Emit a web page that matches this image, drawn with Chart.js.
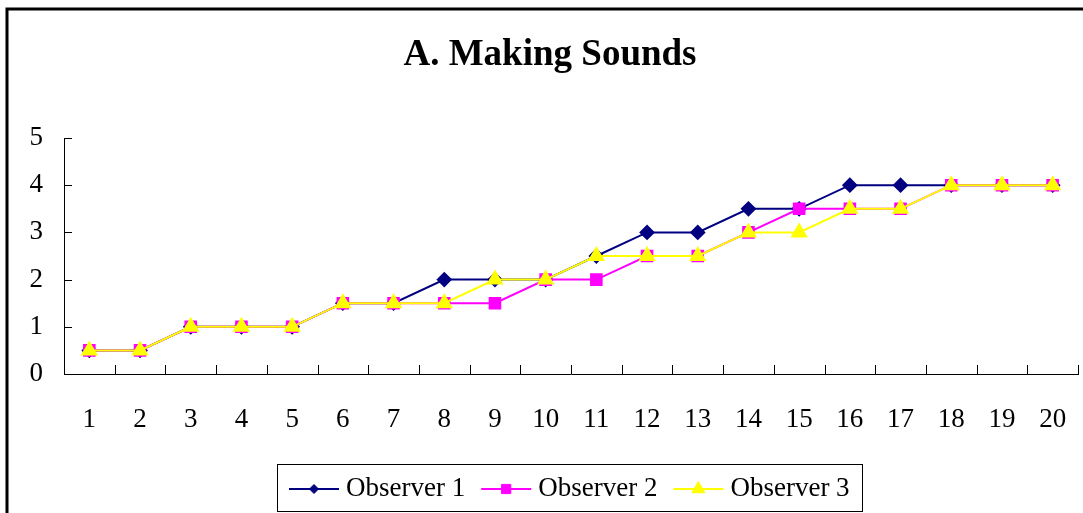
<!DOCTYPE html>
<html>
<head>
<meta charset="utf-8">
<script src="https://cdn.jsdelivr.net/npm/chart.js@4/dist/chart.umd.min.js"></script>
<style>
  html, body { margin: 0; padding: 0; background: #fff; }
  #wrap { width: 1083px; height: 513px; }
</style>
</head>
<body>
<div id="wrap"><canvas id="c" width="1083" height="513"></canvas></div>
<script>
// Sessions 1..20 and the rating each observer gave
const sessions = ['1','2','3','4','5','6','7','8','9','10','11','12','13','14','15','16','17','18','19','20'];
const observer1 = [0.5,0.5,1,1,1,1.5,1.5,2,2,2,2.5,3,3,3.5,3.5,4,4,4,4,4];
const observer2 = [0.5,0.5,1,1,1,1.5,1.5,1.5,1.5,2,2,2.5,2.5,3,3.5,3.5,3.5,4,4,4];
const observer3 = [0.5,0.5,1,1,1,1.5,1.5,1.5,2,2,2.5,2.5,2.5,3,3,3.5,3.5,4,4,4];
const yTicks = [0,1,2,3,4,5];
const chartTitle = 'A. Making Sounds';

const SERIF = '"Liberation Serif", "Times New Roman", serif';

// outer frame (left and top edges)
const framePlugin = {
  id: 'frame',
  beforeDraw(chart) {
    const ctx = chart.ctx;
    ctx.save();
    ctx.fillStyle = '#fff';
    ctx.fillRect(0, 0, chart.width, chart.height);
    ctx.strokeStyle = '#000';
    ctx.lineWidth = 3;
    ctx.beginPath();
    ctx.moveTo(7, chart.height);
    ctx.lineTo(7, 9);
    ctx.lineTo(chart.width, 9);
    ctx.stroke();
    ctx.restore();
  }
};

// tick marks pointing into the plot area
const innerTicks = {
  id: 'innerTicks',
  beforeDatasetsDraw(chart) {
    const ctx = chart.ctx;
    const xs = chart.scales.x, ys = chart.scales.y;
    ctx.save();
    ctx.strokeStyle = '#000';
    ctx.lineWidth = 1;
    ctx.beginPath();
    for (let k = 1; k <= chart.data.labels.length; k++) {
      const px = Math.round(xs.getPixelForValue(k - 0.5)) + 0.5;
      ctx.moveTo(px, ys.bottom);
      ctx.lineTo(px, ys.bottom - 9);
    }
    ys.ticks.forEach(t => {
      const py = Math.round(ys.getPixelForValue(t.value)) + 0.5;
      ctx.moveTo(xs.left, py);
      ctx.lineTo(xs.left + 8, py);
    });
    ctx.stroke();
    ctx.restore();
  }
};

// boxed legend with line + marker samples
const legendRadius = [4.5, 6.5, 7.5];
const boxedLegend = {
  id: 'boxedLegend',
  afterDraw(chart) {
    const ctx = chart.ctx;
    const ds = chart.data.datasets;
    ctx.save();
    ctx.font = '27px ' + SERIF;
    const sample = 50, gap = 7, between = 16, pad = 12;
    const widths = ds.map(d => ctx.measureText(d.label).width);
    const total = pad * 2 + widths.reduce((a, w) => a + sample + gap + w, 0) + between * (ds.length - 1);
    const ca = chart.chartArea;
    const left = Math.round((ca.left + ca.right) / 2 - total / 2) - 2;
    const top = chart.height - 49, h = 47, cy = top + 25;
    ctx.strokeStyle = '#000';
    ctx.lineWidth = 1;
    ctx.strokeRect(left + 0.5, top + 0.5, Math.round(total), h);
    let x = left + pad;
    ds.forEach((d, i) => {
      ctx.strokeStyle = d.borderColor;
      ctx.lineWidth = 2;
      ctx.beginPath();
      ctx.moveTo(x, cy);
      ctx.lineTo(x + sample, cy);
      ctx.stroke();
      ctx.fillStyle = d.pointBackgroundColor;
      ctx.strokeStyle = d.pointBorderColor;
      ctx.lineWidth = 1;
      Chart.helpers.drawPoint(ctx, { pointStyle: d.pointStyle, radius: legendRadius[i], borderWidth: 1, rotation: 0 }, x + sample / 2, cy);
      ctx.fillStyle = '#000';
      ctx.textAlign = 'left';
      ctx.textBaseline = 'middle';
      ctx.fillText(d.label, x + sample + gap, cy);
      x += sample + gap + widths[i] + between;
    });
    ctx.restore();
  }
};

new Chart(document.getElementById('c'), {
  type: 'line',
  data: {
    labels: sessions,
    datasets: [
      { label: 'Observer 1', data: observer1, borderColor: '#000080', backgroundColor: '#000080',
        pointBackgroundColor: '#000080', pointBorderColor: '#000080', pointStyle: 'rectRot',
        pointRadius: 6.5, borderWidth: 2, order: 3 },
      { label: 'Observer 2', data: observer2, borderColor: '#FF00FF', backgroundColor: '#FF00FF',
        pointBackgroundColor: '#FF00FF', pointBorderColor: '#FF00FF', pointStyle: 'rect',
        pointRadius: 7.5, borderWidth: 2, order: 2 },
      { label: 'Observer 3', data: observer3, borderColor: '#FFFF00', backgroundColor: '#FFFF00',
        pointBackgroundColor: '#FFFF00', pointBorderColor: '#FFFF00', pointStyle: 'triangle',
        pointRadius: 8, borderWidth: 2, order: 1 }
    ]
  },
  options: {
    responsive: false,
    animation: false,
    devicePixelRatio: 1,
    layout: { autoPadding: false, padding: { left: 22, right: 5, top: 0, bottom: 0 } },
    plugins: {
      legend: { display: false },
      tooltip: { enabled: false },
      title: {
        display: true,
        text: chartTitle,
        color: '#000',
        font: { family: SERIF, size: 37, weight: 'bold' },
        padding: { top: 33, bottom: 60.6 }
      }
    },
    elements: { line: { tension: 0 }, point: { borderWidth: 1, hoverRadius: 6 } },
    scales: {
      x: {
        offset: true,
        grid: { display: false, drawTicks: false },
        border: { display: true, color: '#000', width: 1 },
        ticks: { color: '#000', font: { family: SERIF, size: 27 }, padding: 30, maxRotation: 0, autoSkip: false },
        afterFit(scale) {
          scale.height = 139;
          scale.paddingLeft = 0;
          scale.paddingRight = 0;
        }
      },
      y: {
        min: 0, max: 5,
        afterBuildTicks(scale) { scale.ticks = yTicks.map(v => ({ value: v })); },
        grid: { display: false, drawTicks: false },
        border: { display: true, color: '#000', width: 1 },
        ticks: { color: '#000', font: { family: SERIF, size: 27 }, padding: 21 },
        afterFit(scale) { scale.width = 42; }
      }
    }
  },
  plugins: [framePlugin, innerTicks, boxedLegend]
});
</script>
</body>
</html>
